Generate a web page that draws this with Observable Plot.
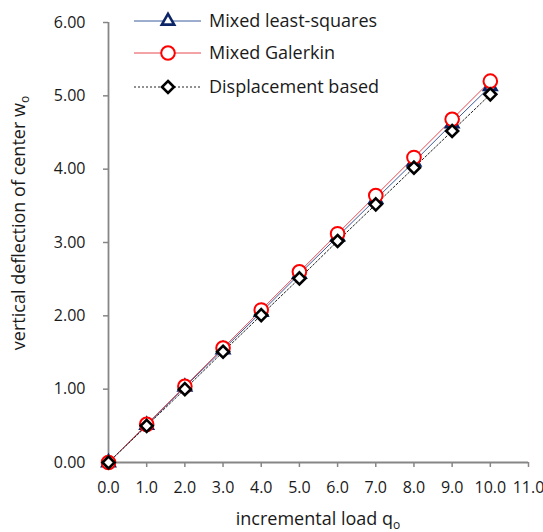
<!DOCTYPE html>
<html><head><meta charset="utf-8">
<script src="https://cdn.jsdelivr.net/npm/d3@7"></script>
<script src="https://cdn.jsdelivr.net/npm/@observablehq/plot@0.6"></script>
<style>body{margin:0;background:#fff;} #chart{width:543px;height:532px;}</style>
</head><body><div id="chart"></div>
<script>
const loads = [0, 1, 2, 3, 4, 5, 6, 7, 8, 9, 10];
const mixedLeastSquares = [0, 0.51, 1.03, 1.54, 2.05, 2.57, 3.08, 3.59, 4.10, 4.62, 5.13];
const mixedGalerkin = [0, 0.52, 1.04, 1.56, 2.08, 2.60, 3.12, 3.64, 4.16, 4.68, 5.20];
const displacementBased = [0, 0.50, 1.00, 1.51, 2.01, 2.51, 3.02, 3.52, 4.02, 4.52, 5.02];
const xTicks = [0, 1, 2, 3, 4, 5, 6, 7, 8, 9, 10, 11];
const yTicks = [0, 1, 2, 3, 4, 5, 6];
const seriesNames = ["Mixed least-squares", "Mixed Galerkin", "Displacement based"];

const styles = [
  {line: "#3b5a9a", dash: null, symbol: "triangle", r: 4.6, mk: "#0b2566", sw: 2.6},
  {line: "#e8484f", dash: null, symbol: "circle", r: 6.8, mk: "#ff0000", sw: 2},
  {line: "#222222", dash: "2,2", symbol: "diamond2", r: 5.4, mk: "#000000", sw: 2.6}
];
const values = [mixedLeastSquares, mixedGalerkin, displacementBased];
const series = values.map(v => loads.map((x, i) => ({x, y: v[i]})));

const marks = [
  Plot.axisX(xTicks, {tickSize: 5, tickPadding: 14, stroke: "#868686", strokeWidth: 1.5, fill: "#1a1a1a", tickFormat: d => d.toFixed(1), label: null, fontSize: 16}),
  Plot.axisY(yTicks, {tickSize: 5, tickPadding: 18, stroke: "#868686", strokeWidth: 1.5, fill: "#1a1a1a", tickFormat: d => d.toFixed(2), label: null, fontSize: 16}),
  Plot.ruleX([0], {stroke: "#868686", strokeWidth: 1.8}),
  Plot.ruleY([0], {stroke: "#868686", strokeWidth: 1.8})
];
series.forEach((s, k) => {
  marks.push(Plot.line(s, {x: "x", y: "y", stroke: styles[k].line, strokeWidth: 1, strokeDasharray: styles[k].dash}));
});
series.forEach((s, k) => {
  marks.push(Plot.dot(s, {x: "x", y: "y", symbol: styles[k].symbol, r: styles[k].r, stroke: styles[k].mk, strokeWidth: styles[k].sw, fill: "white"}));
});

const plot = Plot.plot({
  width: 543, height: 532,
  marginLeft: 108, marginRight: 15, marginTop: 22, marginBottom: 70,
  style: {fontFamily: "Open Sans", fontSize: "16px", color: "#1a1a1a", background: "#fff"},
  x: {domain: [0, 11]},
  y: {domain: [0, 6]},
  marks
});
document.getElementById("chart").appendChild(plot);

// titles and legend
const svg = d3.select(plot);
const g = svg.append("g").attr("font-family", "Open Sans").attr("fill", "#1a1a1a");
const xt = g.append("text").attr("x", 318).attr("y", 525).attr("text-anchor", "middle").attr("font-size", 18);
xt.append("tspan").text("incremental load q");
xt.append("tspan").attr("font-size", 12).attr("dy", 4).text("o");
const yt = g.append("text").attr("transform", "translate(25,223) rotate(-90)").attr("text-anchor", "middle").attr("font-size", 18);
yt.append("tspan").text("vertical deflection of center w");
yt.append("tspan").attr("font-size", 12).attr("dy", 4).text("o");

const lg = g.append("g");
const rowsY = [21, 53, 87];
seriesNames.forEach((name, k) => {
  const st = styles[k];
  const y = rowsY[k];
  lg.append("line").attr("x1", 134).attr("x2", 201).attr("y1", y).attr("y2", y)
    .attr("stroke", st.line).attr("stroke-width", 1).attr("stroke-dasharray", st.dash);
  const sym = {triangle: d3.symbolTriangle, circle: d3.symbolCircle, diamond2: d3.symbolDiamond2}[st.symbol];
  lg.append("path").attr("transform", `translate(168,${y})`)
    .attr("d", d3.symbol(sym, Math.PI * st.r * st.r)())
    .attr("fill", "white").attr("stroke", st.mk).attr("stroke-width", st.sw);
  lg.append("text").attr("x", 209).attr("y", y).attr("dy", "0.35em").attr("text-anchor", "start").attr("font-size", 18).text(name);
});
</script>
</body></html>
